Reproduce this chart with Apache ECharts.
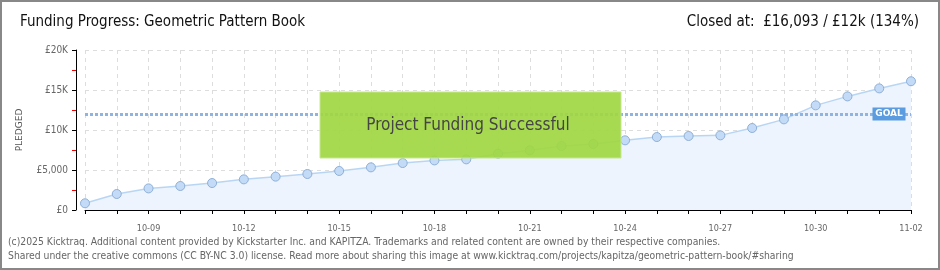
<!DOCTYPE html>
<html>
<head>
<meta charset="utf-8">
<script src="https://cdn.jsdelivr.net/npm/echarts@6/dist/echarts.min.js"></script>
<style>
html,body{margin:0;padding:0;background:#fff;}
#c{width:940px;height:270px;}
</style>
</head>
<body>
<div id="c"></div>
<script>
// ---- data ----
const categories = ['10-07','10-08','10-09','10-10','10-11','10-12','10-13','10-14','10-15','10-16','10-17','10-18','10-19','10-20','10-21','10-22','10-23','10-24','10-25','10-26','10-27','10-28','10-29','10-30','10-31','11-01','11-02'];
const pledged = [840,2000,2700,3000,3370,3830,4170,4500,4880,5330,5870,6200,6330,7040,7460,8000,8250,8710,9120,9250,9330,10250,11330,13080,14200,15200,16093];
const goal = 12000;
const yTickLabels = {0:'£0',5000:'£5,000',10000:'£10K',15000:'£15K',20000:'£20K'};
const titleText = 'Funding Progress: Geometric Pattern Book';
const closedText = 'Closed at:  £16,093 / £12k (134%)';
const footer1 = '(c)2025 Kicktraq. Additional content provided by Kickstarter Inc. and KAPITZA. Trademarks and related content are owned by their respective companies.';
const footer2 = 'Shared under the creative commons (CC BY-NC 3.0) license. Read more about sharing this image at www.kicktraq.com/projects/kapitza/geometric-pattern-book/#sharing';
const bannerText = 'Project Funding Successful';

const FONT = '"Liberation Sans Narrow","DejaVu Sans Condensed",sans-serif';
const chart = echarts.init(document.getElementById('c'), null, {renderer:'canvas'});
chart.setOption({
  animation:false,
  backgroundColor:'#fff',
  textStyle:{fontFamily:FONT},
  grid:{left:85,right:29,top:50,bottom:60,containLabel:false},
  xAxis:{
    type:'category',
    data:categories,
    boundaryGap:false,
    offset:10,
    axisLine:{show:true,lineStyle:{color:'#000',width:1}},
    axisTick:{show:true,interval:0,length:4,lineStyle:{color:'#000'}},
    axisLabel:{interval:(i)=> (i-2)%3===0, color:'#666',fontSize:9,fontFamily:FONT,margin:4},
    splitLine:{show:true,interval:0,lineStyle:{color:'#ddd',type:[4,4]}}
  },
  yAxis:{
    type:'value',
    min:0,max:20000,interval:5000,
    offset:9,
    name:'PLEDGED',
    nameLocation:'middle',
    nameGap:52,
    nameTextStyle:{color:'#555',fontSize:9,fontFamily:'DejaVu Sans',fontWeight:'normal'},
    axisLine:{show:true,lineStyle:{color:'#000',width:1}},
    axisTick:{show:true,length:4,lineStyle:{color:'#000'}},
    minorTick:{show:true,splitNumber:2,length:4,lineStyle:{color:'#e00'}},
    axisLabel:{color:'#666',fontSize:10,fontFamily:FONT,margin:8,formatter:(v)=>yTickLabels[v]||''},
    splitLine:{show:true,lineStyle:{color:'#ddd',type:[4,4]}}
  },
  series:[{
    type:'line',
    data:pledged,
    symbol:'circle',
    symbolSize:9,
    itemStyle:{color:'#c3dbf6',borderColor:'#8fb0d8',borderWidth:1},
    lineStyle:{color:'#b8d6f4',width:1.5},
    areaStyle:{color:'#edf4fd',opacity:1},
    z:3,
    markLine:{
      silent:true,symbol:['none','none'],
      lineStyle:{color:'#8db4e2',width:3,type:[3,2]},
      label:{show:false},
      data:[{yAxis:goal}],
      z:4
    },
    markPoint:{
      silent:true,
      data:[{coord:[categories[categories.length-1],goal]}],
      symbol:'rect',
      symbolSize:[33,13],
      symbolOffset:[-22,0],
      itemStyle:{color:'#5b9ce0'},
      label:{show:true,formatter:'GOAL',color:'#fff',fontSize:9,fontFamily:'DejaVu Sans',fontWeight:'bold'},
      z:6
    }
  }],
  graphic:[
    {type:'text',left:20,top:15,style:{text:titleText,fill:'#111',font:'15px '+FONT}},
    {type:'text',right:21,top:15,style:{text:closedText,fill:'#111',font:'15px '+FONT}},
    {type:'text',left:8,top:237,style:{text:footer1,fill:'#666',font:'10.3px '+FONT}},
    {type:'text',left:8,top:251,style:{text:footer2,fill:'#666',font:'10.3px '+FONT}},
    {type:'rect',shape:{x:320,y:92,width:301,height:66},style:{fill:'rgba(160,215,65,0.92)',stroke:'#c6e88c',lineWidth:1},z:10},
    {type:'text',x:468,y:126,z:11,style:{text:bannerText,fill:'#454545',font:'17px '+FONT,textAlign:'center',textVerticalAlign:'middle',textShadowColor:'#fff',textShadowOffsetX:1,textShadowOffsetY:1,textShadowBlur:0}},
    {type:'rect',shape:{x:1,y:1,width:938,height:268},style:{fill:'none',stroke:'#888',lineWidth:2},z:20}
  ]
});
</script>
</body>
</html>
